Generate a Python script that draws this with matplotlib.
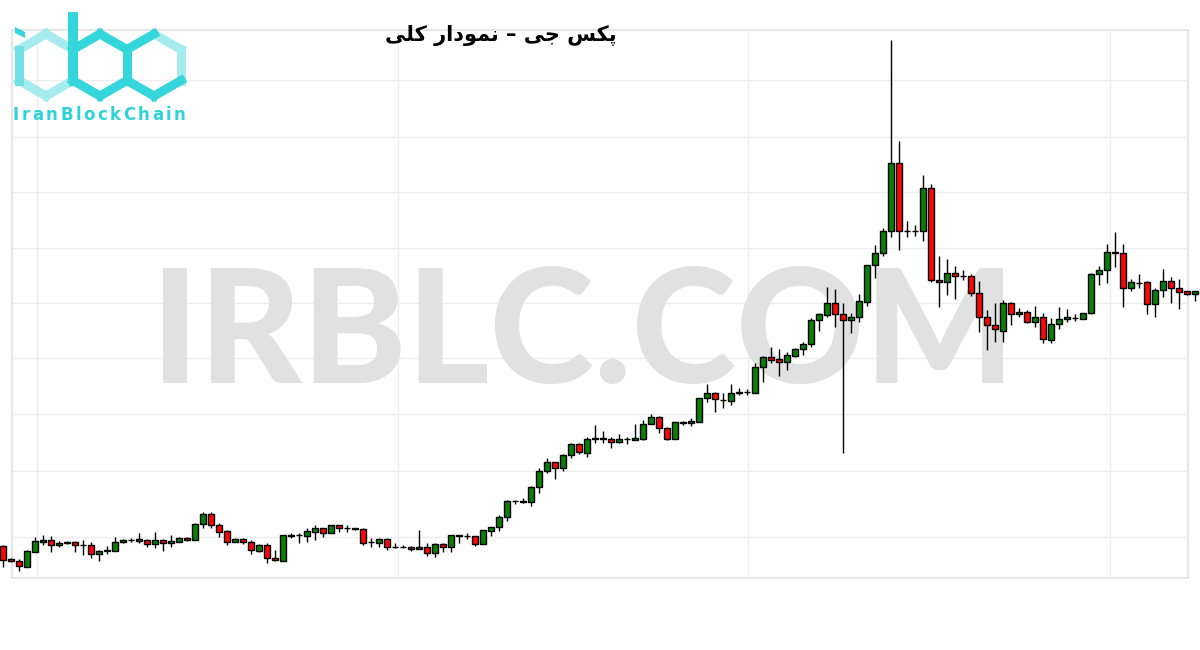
import matplotlib
matplotlib.use("Agg")
import matplotlib.pyplot as plt
from matplotlib.font_manager import FontProperties
from matplotlib.patches import Polygon, Rectangle
from matplotlib.textpath import TextToPath


# --------------------------------------------------
# Données OHLC (unités de prix relatives)
# --------------------------------------------------
opens = [
    104, 91, 89, 83, 98, 108, 110, 105, 107, 108,
    105, 105, 96, 99, 99, 108, 110, 109, 110, 106,
    110, 107, 108, 112, 110, 126, 136, 125, 119, 108,
    111, 108, 99, 105, 92, 89, 114, 115, 114, 118,
    122, 117, 125, 122, 122, 121, 108, 107, 111, 103,
    103, 103, 101, 103, 97, 106, 103, 114, 114, 114,
    106, 119, 123, 133, 149, 148, 148, 163, 179, 188,
    182, 195, 206, 197, 211, 211, 211, 208, 211, 210,
    211, 226, 233, 222, 211, 227, 227, 228, 252, 257,
    250, 249, 257, 258, 257, 283, 293, 291, 288, 294,
    301, 306, 330, 335, 347, 336, 330, 333, 348, 385,
    397, 419, 487, 419, 419, 419, 462, 370, 368, 377,
    374, 374, 357, 333, 325, 319, 347, 336, 338, 328,
    333, 310, 326, 331, 332, 331, 337, 376, 380, 397,
    397, 362, 367, 368, 346, 360, 369, 362, 359, 356,
]
highs = [
    105, 92, 91, 100, 113, 115, 114, 109, 109, 109,
    110, 108, 100, 104, 113, 111, 112, 117, 111, 118,
    111, 115, 113, 113, 127, 138, 138, 127, 120, 112,
    112, 110, 106, 107, 100, 115, 117, 117, 122, 125,
    122, 125, 125, 125, 122, 122, 112, 112, 112, 107,
    105, 104, 120, 107, 107, 107, 115, 115, 117, 114,
    120, 123, 135, 150, 150, 152, 164, 182, 192, 188,
    196, 207, 207, 213, 225, 219, 213, 216, 213, 226,
    230, 236, 234, 223, 228, 229, 232, 252, 266, 258,
    257, 266, 262, 261, 287, 294, 303, 301, 298, 302,
    308, 332, 337, 363, 361, 347, 337, 356, 385, 405,
    422, 610, 509, 429, 425, 475, 466, 394, 391, 384,
    380, 376, 369, 340, 347, 350, 348, 342, 340, 344,
    337, 332, 343, 341, 336, 337, 377, 384, 406, 418,
    406, 371, 376, 369, 362, 381, 373, 371, 359, 359,
]
lows = [
    83, 88, 79, 83, 98, 105, 98, 103, 106, 98,
    95, 92, 89, 96, 99, 107, 108, 107, 103, 102,
    99, 103, 108, 109, 110, 122, 122, 113, 105, 108,
    106, 96, 98, 87, 89, 89, 112, 107, 108, 110,
    113, 117, 118, 118, 120, 105, 103, 103, 100, 102,
    102, 99, 101, 94, 93, 98, 98, 107, 111, 104,
    106, 114, 119, 129, 146, 147, 144, 157, 177, 171,
    179, 192, 196, 193, 207, 207, 202, 207, 206, 210,
    210, 226, 217, 210, 211, 225, 224, 228, 248, 238,
    242, 245, 255, 255, 257, 268, 287, 274, 280, 293,
    295, 303, 319, 333, 323, 197, 317, 328, 344, 372,
    394, 413, 400, 413, 414, 409, 368, 343, 355, 351,
    370, 354, 318, 300, 308, 308, 325, 333, 327, 323,
    307, 307, 321, 328, 329, 331, 336, 365, 367, 383,
    343, 359, 362, 336, 333, 353, 347, 341, 355, 349,
]
closes = [
    90, 89, 84, 99, 109, 110, 105, 107, 108, 105,
    105, 96, 99, 100, 108, 110, 110, 111, 106, 110,
    107, 109, 112, 110, 126, 136, 125, 118, 108, 111,
    108, 100, 105, 92, 90, 115, 115, 115, 119, 122,
    117, 125, 122, 122, 121, 107, 108, 111, 103, 103,
    103, 101, 103, 97, 106, 103, 115, 115, 114, 106,
    120, 123, 133, 149, 149, 149, 163, 179, 188, 182,
    195, 206, 198, 211, 212, 212, 208, 211, 211, 212,
    226, 233, 222, 211, 228, 228, 229, 252, 257, 251,
    250, 257, 258, 258, 283, 293, 290, 288, 295, 301,
    306, 330, 336, 347, 336, 330, 333, 349, 385, 397,
    419, 487, 419, 419, 419, 462, 370, 368, 377, 374,
    374, 357, 333, 325, 321, 347, 336, 338, 328, 333,
    311, 326, 331, 333, 332, 337, 376, 380, 398, 398,
    362, 368, 367, 346, 360, 369, 362, 358, 356, 359,
]

TITLE = "پکس جی – نمودار کلی"
WATERMARK = "IRBLC.COM"
LOGO_TEXT = "IranBlockChain"

UP_COLOR = "#0a7d0a"
DOWN_COLOR = "#f50a0a"
LOGO_COLOR = "#34d6db"
LOGO_LIGHT = "#a6ecee"
GRID_COLOR = "#ededed"

# formes contextuelles pour les lettres persanes du titre
# (isolée, finale, initiale, médiane) ; None = ne se lie pas à gauche
ARABIC_FORMS = {
    "پ": ("\uFB56", "\uFB57", "\uFB58", "\uFB59"),
    "ک": ("\uFB8E", "\uFB8F", "\uFB90", "\uFB91"),
    "س": ("\uFEB1", "\uFEB2", "\uFEB3", "\uFEB4"),
    "ج": ("\uFE9D", "\uFE9E", "\uFE9F", "\uFEA0"),
    "ی": ("\uFBFC", "\uFBFD", "\uFBFE", "\uFBFF"),
    "ن": ("\uFEE5", "\uFEE6", "\uFEE7", "\uFEE8"),
    "م": ("\uFEE1", "\uFEE2", "\uFEE3", "\uFEE4"),
    "ل": ("\uFEDD", "\uFEDE", "\uFEDF", "\uFEE0"),
    "و": ("\uFEED", "\uFEEE", None, None),
    "د": ("\uFEA9", "\uFEAA", None, None),
    "ا": ("\uFE8D", "\uFE8E", None, None),
    "ر": ("\uFEAD", "\uFEAE", None, None),
}


def shape_rtl(text: str) -> str:
    """Liaison des lettres + ordre visuel (matplotlib ne gère pas le RTL)."""
    out = []
    for k, ch in enumerate(text):
        forms = ARABIC_FORMS.get(ch)
        if forms is None:
            out.append(ch)
            continue
        prev = text[k - 1] if k > 0 else ""
        nxt = text[k + 1] if k + 1 < len(text) else ""
        joins_prev = prev in ARABIC_FORMS and ARABIC_FORMS[prev][2] is not None
        joins_next = nxt in ARABIC_FORMS and forms[2] is not None
        if joins_prev and joins_next:
            out.append(forms[3])
        elif joins_prev:
            out.append(forms[1])
        elif joins_next:
            out.append(forms[2])
        else:
            out.append(forms[0])
    return "".join(reversed(out))


def hexagon(cx, cy, r=31, w=27):
    """Sommets d'un hexagone pointe en haut (coordonnées pixels, y vers le bas)."""
    return [
        (cx, cy - r), (cx + w, cy - r / 2), (cx + w, cy + r / 2),
        (cx, cy + r), (cx - w, cy + r / 2), (cx - w, cy - r / 2),
    ]


def draw_edges(ax, pts, edges, color, lw=6.5):
    for a, b in edges:
        ax.plot([pts[a][0], pts[b][0]], [pts[a][1], pts[b][1]],
                color=color, lw=lw, solid_capstyle="projecting")


def draw_spaced_text(ax, x0, y0, text, prop, tracking, color):
    """Texte avec espacement entre lettres (coordonnées pixels)."""
    ttp = TextToPath()
    x_pos = x0
    for ch in text:
        ax.text(x_pos, y0, ch, fontproperties=prop, color=color,
                ha="left", va="baseline")
        w, _, _ = ttp.get_text_width_height_descent(ch, prop, ismath=False)
        x_pos += w * 100 / 72 + tracking


def draw_logo(ax):
    hi = hexagon(46, 65)
    hb = hexagon(100, 65)
    hc = hexagon(154, 65)
    # i : hexagone clair + point
    draw_edges(ax, hi, [(0, 1), (5, 0), (4, 5), (3, 4), (2, 3)], LOGO_LIGHT)
    draw_edges(ax, hi, [(4, 5)], "#6fe0e3")
    ax.add_patch(Polygon([(15, 27), (25, 32), (25, 38), (15, 33)],
                         closed=True, color=LOGO_COLOR, lw=0))
    # b : hampe + hexagone
    ax.plot([73, 73], [12, 81], color=LOGO_COLOR, lw=7.2, solid_capstyle="butt")
    draw_edges(ax, hb, [(0, 1), (1, 2), (2, 3), (3, 4), (4, 5), (5, 0)], LOGO_COLOR)
    # c : hexagone ouvert, côté droit plus clair
    draw_edges(ax, hc, [(0, 1), (1, 2)], LOGO_LIGHT)
    draw_edges(ax, hc, [(5, 0), (2, 3), (3, 4)], LOGO_COLOR)
    prop = FontProperties(family="DejaVu Sans", weight="bold", size=12)
    draw_spaced_text(ax, 13, 120, LOGO_TEXT, prop, 2.4, "#2ed3d8")


fig = plt.figure(figsize=(12, 6.5), dpi=100, facecolor="white")

# --------------------------------------------------
# Calque de décor (cadre, quadrillage pâle, logo) en pixels
# --------------------------------------------------
deco = fig.add_axes([0, 0, 1, 1], zorder=0)
deco.set_xlim(0, 1200)
deco.set_ylim(650, 0)
deco.axis("off")
deco.hlines([80, 137, 192, 248, 303, 358, 414, 471, 537], 12, 1188,
            color=GRID_COLOR, lw=1)
deco.vlines([37, 398, 748, 1110], 30, 578, color=GRID_COLOR, lw=1)
deco.add_patch(Rectangle((12, 30), 1176, 548, fill=False,
                         edgecolor="#e6e6e6", lw=1.5))
draw_logo(deco)

# --------------------------------------------------
# Graphique en chandeliers
# --------------------------------------------------
ax = fig.add_axes([0, 0, 1, 1], zorder=1)
ax.set_facecolor("none")
n = len(closes)
x = list(range(n))

ax.set_xlim(-0.375, n - 0.375)
ax.set_ylim(0, 650)
ax.set_xticks([])
ax.set_yticks([])
for spine in ax.spines.values():
    spine.set_visible(False)

ax.text(151 / 1200, 1 - 383 / 650, WATERMARK, transform=ax.transAxes,
        fontsize=114, fontweight="black", family="Lato", color="#e1e1e1",
        ha="left", va="baseline", zorder=1)

colors = [UP_COLOR if c >= o else DOWN_COLOR for o, c in zip(opens, closes)]
bottoms = [min(o, c) for o, c in zip(opens, closes)]
heights = [abs(c - o) for o, c in zip(opens, closes)]

ax.vlines(x, lows, highs, color="black", lw=1, zorder=2)
ax.bar(x, heights, bottom=bottoms, width=0.78, color=colors,
       edgecolor="black", linewidth=1, zorder=3)

fig.text(501 / 1200, 1 - 35 / 650, shape_rtl(TITLE), ha="center", va="center",
         fontsize=15, fontweight="bold", family=["DejaVu Sans"], color="black")

plt.savefig("out.png", dpi=100)
plt.close()
